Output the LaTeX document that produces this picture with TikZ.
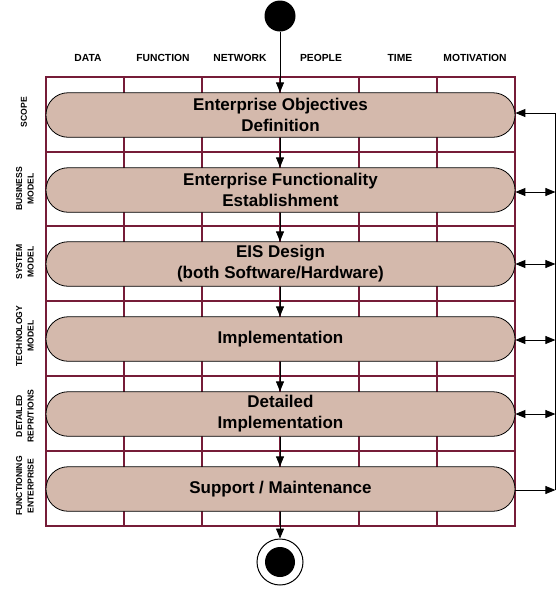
\documentclass[tikz,border=0pt]{standalone}
\usepackage{fontspec}
\setmainfont{Liberation Sans}
\usetikzlibrary{arrows.meta,calc}
\definecolor{pillfill}{RGB}{212,185,172}
\definecolor{gridc}{RGB}{118,28,56}
\begin{document}
\begin{tikzpicture}[x=1pt,y=-1pt,
  pill/.style={draw=black, line width=0.8pt, fill=pillfill, rounded corners=22pt,
    minimum width=469pt, minimum height=44.5pt, inner sep=0pt, align=center,
    font=\fontsize{17}{21}\selectfont\bfseries},
  colhead/.style={font=\fontsize{10.3}{11}\selectfont\bfseries, inner sep=0pt},
  rowhead/.style={font=\fontsize{8.6}{11.5}\selectfont\bfseries, rotate=90, align=center, inner sep=0pt},
  gridline/.style={draw=gridc, line width=1.2pt},
  flow/.style={draw=black, line width=0.9pt, -{Triangle[length=10pt,width=8pt]}},
  bflow/.style={draw=black, line width=0.9pt, {Triangle[length=10pt,width=8pt]}-{Triangle[length=10pt,width=8pt]}},
  loopline/.style={draw=black, line width=0.9pt}]
\useasboundingbox (0,0) rectangle (558,590);

% grid
\draw[gridline] (46,77) rectangle (515,526);
\foreach \x in {124,202,280,359,437} \draw[gridline] (\x,77) -- (\x,526);
\foreach \y in {152,226,301,376,451} \draw[gridline] (46,\y) -- (515,\y);

% column headers
\node[colhead] (hdata) at (88,58) {DATA};
\node[colhead] (hfunc) at (163,58) {FUNCTION};
\node[colhead] (hnet) at (240,58) {NETWORK};
\node[colhead] (hpeople) at (321,58) {PEOPLE};
\node[colhead] (htime) at (400,58) {TIME};
\node[colhead] (hmot) at (475,58) {MOTIVATION};

% row headers
\node[rowhead] (rscope) at (24,112) {SCOPE};
\node[rowhead] (rbus) at (25,189) {BUSINESS\\MODEL};
\node[rowhead] (rsys) at (25,262) {SYSTEM\\MODEL};
\node[rowhead] (rtech) at (25,336) {TECHNOLOGY\\MODEL};
\node[rowhead] (rdet) at (25,416) {DETAILED\\REPR/TIONS};
\node[rowhead] (rfun) at (25,486) {FUNCTIONING\\ENTERPRISE};

% pills
\node[pill] (p1) at (280.5,115) {Enterprise Objectives\\Definition};
\node[pill] (p2) at (280.5,190) {Enterprise Functionality\\Establishment};
\node[pill] (p3) at (280.5,264) {EIS Design\\(both Software/Hardware)};
\node[pill] (p4) at (280.5,339) {Implementation};
\node[pill] (p5) at (280.5,414) {Detailed\\Implementation};
\node[pill] (p6) at (280.5,489) {Support / Maintenance};

% start and end
\node[circle, fill=black, minimum size=31pt, inner sep=0pt] (start) at (280,16) {};
\node[circle, draw=black, line width=1pt, fill=white, minimum size=46pt, inner sep=0pt] (end) at (280,562) {};
\node[circle, fill=black, minimum size=30pt, inner sep=0pt] (endin) at (end.center) {};

% vertical flow
\draw[flow] (start.south) -- (start.south |- p1.north);
\draw[flow] (p1.south -| start.south) -- (p2.north -| start.south);
\draw[flow] (p2.south -| start.south) -- (p3.north -| start.south);
\draw[flow] (p3.south -| start.south) -- (p4.north -| start.south);
\draw[flow] (p4.south -| start.south) -- (p5.north -| start.south);
\draw[flow] (p5.south -| start.south) -- (p6.north -| start.south);
\draw[flow] (p6.south -| start.south) -- (end.north);

% feedback
\coordinate (r1) at ($(p1.east)+(40,-2)$);
\coordinate (r2) at ($(p2.east)+(40,2)$);
\coordinate (r3) at ($(p3.east)+(40,0)$);
\coordinate (r4) at ($(p4.east)+(40,1)$);
\coordinate (r5) at ($(p5.east)+(40,0)$);
\coordinate (r6) at ($(p6.east)+(40,1)$);
\draw[flow] (r1) -- (r1 -| p1.east);
\draw[bflow] (r2 -| p2.east) -- (r2);
\draw[bflow] (r3 -| p3.east) -- (r3);
\draw[bflow] (r4 -| p4.east) -- (r4);
\draw[bflow] (r5 -| p5.east) -- (r5);
\draw[flow] (r6 -| p6.east) -- (r6);
\draw[loopline] (r6) -- (r1);
\end{tikzpicture}
\end{document}
